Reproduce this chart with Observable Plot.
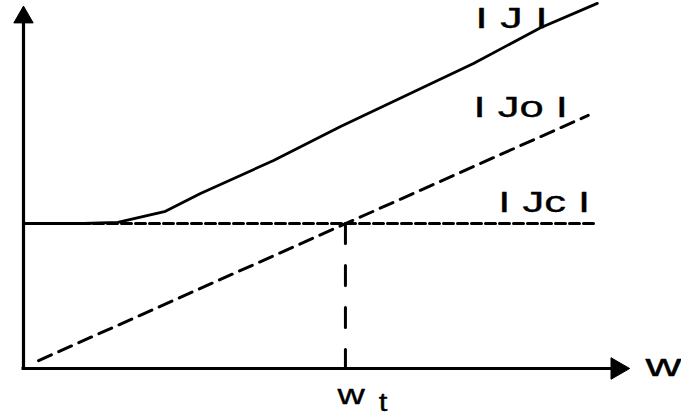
<!DOCTYPE html>
<html>
<head>
<meta charset="utf-8">
<script src="https://cdn.jsdelivr.net/npm/d3@7"></script>
<script src="https://cdn.jsdelivr.net/npm/@observablehq/plot@0.6"></script>
<style>
  html, body { margin: 0; padding: 0; background: #fff; }
  svg { display: block; }
</style>
</head>
<body>
<div id="chart"></div>
<script>
// ---- data (diagram units: w along x, |J| along y) ----
const axisW = [0, 98.3];         // w axis shaft, ends at arrowhead
const axisJ = [0, 98.1];         // |J| axis shaft, ends at arrowhead
const headW = 98.3;              // position of the w-axis arrowhead
const headJ = 98.1;              // position of the |J|-axis arrowhead
const wJ  = [0, 9.9, 15.6, 23.5, 29.3, 41.4, 52.5, 74.5, 85.6, 95];
const J   = [40.5, 40.5, 40.8, 43.9, 48.9, 58.1, 67.6, 85.2, 95.2, 102];
const wJo = [2.5, 93.5];
const Jo  = [2.2, 70.7];
const wJc = [0, 95];
const Jc  = 40.5;
const wt  = 53.3;
const labelText = ["I J I", "I Jo I", "I Jc I", "w", "w", "t"];
const labelW    = [74.8, 74.5, 78.6, 103, 52.0, 58.8];
const labelJ    = [97.9, 72.8, 46.3, 0.6, -7.4, -9.6];
const labelSize = [30, 30, 30, 31, 28, 26];
const labelStretch = [1.5, 1.45, 1.45, 1.6, 1.35, 1.2];

const curveJ = wJ.map((w, i) => ({w, J: J[i]}));
const curveJo = wJo.map((w, i) => ({w, J: Jo[i]}));
const lineJc = wJc.map(w => ({w, J: Jc}));
const labels = labelText.map((t, i) => ({t, w: labelW[i], J: labelJ[i], s: labelSize[i]}));

const chart = Plot.plot({
  width: 681,
  height: 420,
  margin: 0,
  x: {domain: [0, 100], range: [23, 627], axis: null},
  y: {domain: [0, 100], range: [368, 10], axis: null},
  style: {background: "#fff"},
  marks: [
    // axes
    Plot.ruleX([axisW[0]], {y1: axisJ[0], y2: axisJ[1], stroke: "#000", strokeWidth: 3.2}),
    Plot.ruleY([axisJ[0]], {x1: axisW[0] - 0.25, x2: axisW[1], stroke: "#000", strokeWidth: 3.2}),
    // arrowheads
    Plot.dot([0], {x: axisW[0], y: headJ, symbol: "triangle", r: 7.2, fill: "#000", stroke: "#000", strokeWidth: 1}),
    Plot.dot([0], {x: headW, y: axisJ[0], symbol: "triangle", r: 8, rotate: 90, fill: "#000", stroke: "#000", strokeWidth: 1}),
    // |Jc| dashed horizontal
    Plot.line(lineJc, {x: "w", y: "J", stroke: "#000", strokeWidth: 3, strokeDasharray: "10,4"}),
    // |Jo| dashed
    Plot.line(curveJo, {x: "w", y: "J", stroke: "#000", strokeWidth: 3, strokeDasharray: "14,8"}),
    // vertical dashed at wt
    Plot.line([{w: wt, J: Jc}, {w: wt, J: 0}], {x: "w", y: "J", stroke: "#000", strokeWidth: 3, strokeDasharray: "20,22"}),
    // |J| solid
    Plot.line(curveJ, {x: "w", y: "J", stroke: "#000", strokeWidth: 2.8, strokeLinejoin: "round"}),
    // labels
    Plot.text(labels, {x: "w", y: "J", text: "t", fontSize: "s", textAnchor: "start", fill: "#000", stroke: "#000", strokeWidth: 0.35, fontFamily: "Liberation Sans, Arial, sans-serif"})
  ]
});

// stretch the labels horizontally like the reference lettering
d3.select(chart).selectAll("text").each(function(d, i) {
  const tr = this.getAttribute("transform") || "";
  this.setAttribute("transform", tr + ` scale(${labelStretch[i]},1)`);
});

document.getElementById("chart").appendChild(chart);
</script>
</body>
</html>
